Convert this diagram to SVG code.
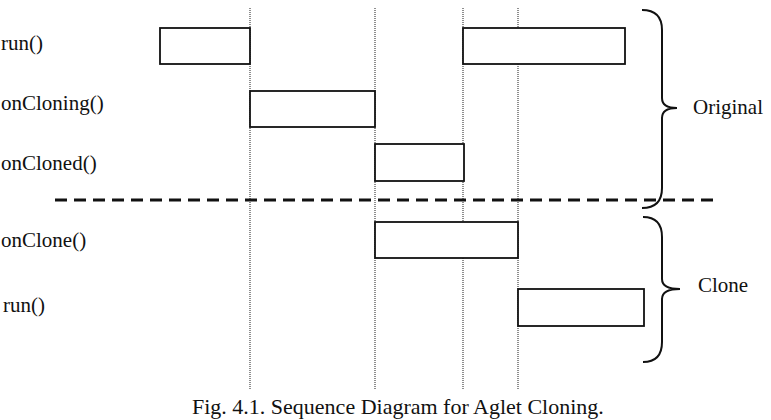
<svg xmlns="http://www.w3.org/2000/svg" width="771" height="420" viewBox="0 0 771 420">
<style>
.t{font-family:"Liberation Serif","Times New Roman",serif;font-size:21px;fill:#111}
.box{fill:#fff;stroke:#111;stroke-width:1.8}
.life{stroke:#444;stroke-width:1.2;stroke-dasharray:1 1;fill:none}
.sep{stroke:#111;stroke-width:3;stroke-dasharray:12 7;fill:none}
.brace{stroke:#111;stroke-width:2;fill:none}
</style>
<rect width="771" height="420" fill="#fff"/>
<g id="lifelines">
<line class="life" x1="250" y1="8" x2="250" y2="390"/>
<line class="life" x1="375" y1="8" x2="375" y2="390"/>
<line class="life" x1="463" y1="8" x2="463" y2="390"/>
<line class="life" x1="518" y1="8" x2="518" y2="390"/>
</g>
<g id="separator">
<line class="sep" x1="55" y1="200" x2="715" y2="200"/>
</g>
<g id="labels">
<text class="t" x="1" y="50">run()</text>
<text class="t" x="1" y="110">onCloning()</text>
<text class="t" x="1" y="170">onCloned()</text>
<text class="t" x="1" y="247">onClone()</text>
<text class="t" x="3" y="312">run()</text>
</g>
<g id="run1"><rect class="box" x="160" y="28" width="90" height="36"/></g>
<g id="onCloning"><rect class="box" x="250" y="91" width="125" height="36"/></g>
<g id="onCloned"><rect class="box" x="375" y="144" width="89" height="37"/></g>
<g id="run2"><rect class="box" x="463" y="28" width="162" height="36"/></g>
<g id="onClone"><rect class="box" x="375" y="222" width="143" height="36"/></g>
<g id="run3"><rect class="box" x="518" y="289" width="126" height="37"/></g>
<g id="original">
<path class="brace" d="M642 10 Q662 10 662 30 L662 98 Q662 108 677 108 Q662 108 662 118 L662 188 Q662 208 642 208"/>
<text class="t" x="693" y="114">Original</text>
</g>
<g id="clone">
<path class="brace" d="M643 217 Q662 217 662 237 L662 279 Q662 289 680 289 Q662 289 662 299 L662 342 Q662 362 643 362"/>
<text class="t" x="698" y="292">Clone</text>
</g>
<g id="caption">
<text class="t" x="192" y="414" style="font-size:22px">Fig. 4.1. Sequence Diagram for Aglet Cloning.</text>
</g>
</svg>
